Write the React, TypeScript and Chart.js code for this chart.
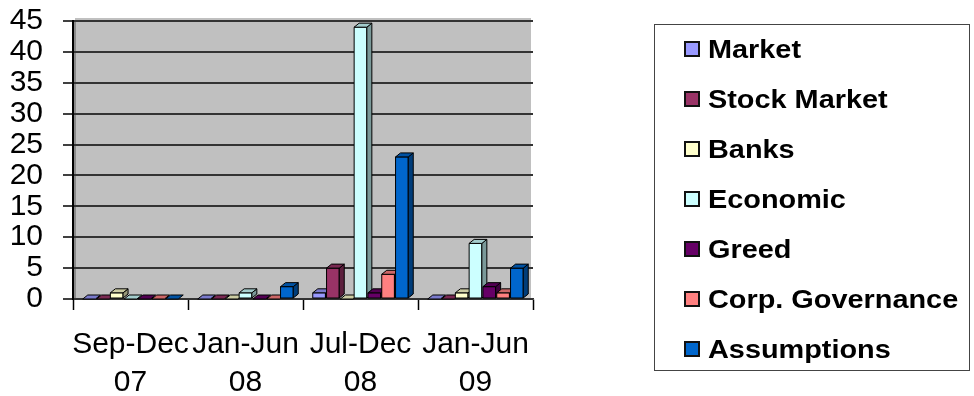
import { useEffect, useRef } from 'react';
import { Chart, registerables } from 'chart.js';
Chart.register(...registerables);

const categories = [['Sep-Dec', '07'], ['Jan-Jun', '08'], ['Jul-Dec', '08'], ['Jan-Jun', '09']];
const seriesNames = ['Market', 'Stock Market', 'Banks', 'Economic', 'Greed', 'Corp. Governance', 'Assumptions'];
const market = [0, 0, 1, 0];
const stockMarket = [0, 0, 5, 0];
const banks = [1, 0, 0, 1];
const economic = [0, 1, 44, 9];
const greed = [0, 0, 1, 2];
const corpGovernance = [0, 0, 4, 1];
const assumptions = [0, 2, 23, 5];
const seriesValues = [market, stockMarket, banks, economic, greed, corpGovernance, assumptions];
const seriesColors = ['#9999FF', '#993366', '#FFFFCC', '#CCFFFF', '#660066', '#FF8080', '#0066CC'];
const yMin = 0;
const yMax = 45;
const yStep = 5;

const FONT = '"Liberation Sans", Arial, sans-serif';

function shade(hex: string, f: number) {
  const n = parseInt(hex.slice(1), 16);
  const r = Math.round(((n >> 16) & 255) * f);
  const g = Math.round(((n >> 8) & 255) * f);
  const b = Math.round((n & 255) * f);
  return `rgb(${r},${g},${b})`;
}

const backgroundPlugin = {
  id: 'wallBg',
  beforeDraw(chart: any) {
    const { ctx, chartArea } = chart;
    ctx.save();
    ctx.fillStyle = '#C0C0C0';
    ctx.fillRect(chartArea.left + 2, chartArea.top - 3, chartArea.right - chartArea.left - 4, chartArea.bottom - chartArea.top + 3);
    ctx.fillStyle = '#8a8a8a';
    ctx.fillRect(chartArea.left, chartArea.top, 3, chartArea.bottom - chartArea.top);
    ctx.restore();
  },
};

const bars3dPlugin = {
  id: 'bars3d',
  afterDatasetsDraw(chart: any) {
    const { ctx } = chart;
    const dsCount = chart.data.datasets.length;
    const n = chart.data.labels.length;
    const dx = 5;
    const dy = 4;
    ctx.save();
    ctx.lineWidth = 1;
    ctx.strokeStyle = '#000';
    ctx.lineJoin = 'round';
    for (let j = 0; j < n; j++) {
      for (let i = 0; i < dsCount; i++) {
        const meta = chart.getDatasetMeta(i);
        const el = meta.data[j];
        if (!el) continue;
        const { x, y, base, width } = el.getProps(['x', 'y', 'base', 'width'], true);
        const color = seriesColors[i];
        const l = x - width / 2;
        const r = x + width / 2;
        const top = Math.min(y, base);
        const bot = Math.max(y, base);
        if (bot - top > 0.5) {
          ctx.fillStyle = color;
          ctx.fillRect(l, top, r - l, bot - top);
          ctx.strokeRect(l, top, r - l, bot - top);
          ctx.beginPath();
          ctx.moveTo(r, top);
          ctx.lineTo(r + dx, top - dy);
          ctx.lineTo(r + dx, bot - dy);
          ctx.lineTo(r, bot);
          ctx.closePath();
          ctx.fillStyle = shade(color, 0.6);
          ctx.fill();
          ctx.stroke();
        }
        ctx.beginPath();
        ctx.moveTo(l, top);
        ctx.lineTo(l + dx, top - dy);
        ctx.lineTo(r + dx, top - dy);
        ctx.lineTo(r, top);
        ctx.closePath();
        ctx.fillStyle = shade(color, 0.8);
        ctx.fill();
        ctx.stroke();
      }
    }
    ctx.restore();
  },
};

const legendPlugin = {
  id: 'boxLegend',
  afterDraw(chart: any) {
    const { ctx } = chart;
    ctx.save();
    ctx.strokeStyle = '#444';
    ctx.lineWidth = 1;
    ctx.strokeRect(654.5, 24.5, 315, 346);
    chart.data.datasets.forEach((ds: any, i: number) => {
      const cy = 49 + i * 50;
      ctx.fillStyle = seriesColors[i];
      ctx.fillRect(685, cy - 7, 14, 14);
      ctx.lineWidth = 2;
      ctx.strokeStyle = '#111';
      ctx.strokeRect(685, cy - 7, 14, 14);
      ctx.save();
      ctx.translate(708, cy + 9);
      ctx.scale(1.11, 1);
      ctx.fillStyle = '#000';
      ctx.font = `bold 26px ${FONT}`;
      ctx.textBaseline = 'alphabetic';
      ctx.textAlign = 'left';
      ctx.fillText(ds.label, 0, 0);
      ctx.restore();
    });
    ctx.restore();
  },
};

export default function App() {
  const ref = useRef<HTMLCanvasElement | null>(null);
  useEffect(() => {
    if (!ref.current) return;
    const chart = new Chart(ref.current, {
      type: 'bar',
      data: {
        labels: categories as any,
        datasets: seriesNames.map((name, i) => ({
          label: name,
          data: seriesValues[i],
          backgroundColor: seriesColors[i],
          borderWidth: 0,
          categoryPercentage: 0.84,
          barPercentage: 0.92,
        })),
      },
      plugins: [backgroundPlugin, bars3dPlugin, legendPlugin],
      options: {
        animation: false,
        responsive: true,
        maintainAspectRatio: false,
        layout: { padding: { left: 0, top: 21, right: 441, bottom: 0 } },
        plugins: { legend: { display: false }, tooltip: { enabled: false } },
        scales: {
          x: {
            offset: true,
            grid: {
              offset: true,
              drawOnChartArea: false,
              drawTicks: true,
              tickLength: 11,
              color: '#000',
              tickColor: '#000',
              tickWidth: 1.5,
            },
            border: { display: true, color: '#333', width: 1.5 },
            ticks: {
              color: '#000',
              font: { family: FONT, size: 30, lineHeight: 1.27 },
              padding: 16,
              maxRotation: 0,
              autoSkip: false,
            },
            afterFit: (scale: any) => {
              scale.height = 97;
              scale.paddingLeft = 0;
              scale.paddingRight = 0;
            },
          },
          y: {
            min: yMin,
            max: yMax,
            ticks: {
              stepSize: yStep,
              autoSkip: false,
              color: '#000',
              font: { family: FONT, size: 30 },
              padding: 20,
            },
            grid: {
              color: '#333',
              lineWidth: 2,
              tickColor: '#000',
              tickWidth: 1.5,
              tickLength: 10,
            },
            border: { display: true, color: '#000', width: 2 },
            afterFit: (scale: any) => {
              scale.width = 73;
              scale.paddingTop = 0;
              scale.paddingBottom = 0;
            },
          },
        },
      },
    });
    return () => chart.destroy();
  }, []);
  return (
    <div style={{ position: 'fixed', left: 0, top: 0, width: 974, height: 396, background: '#fff' }}>
      <canvas ref={ref} />
    </div>
  );
}
